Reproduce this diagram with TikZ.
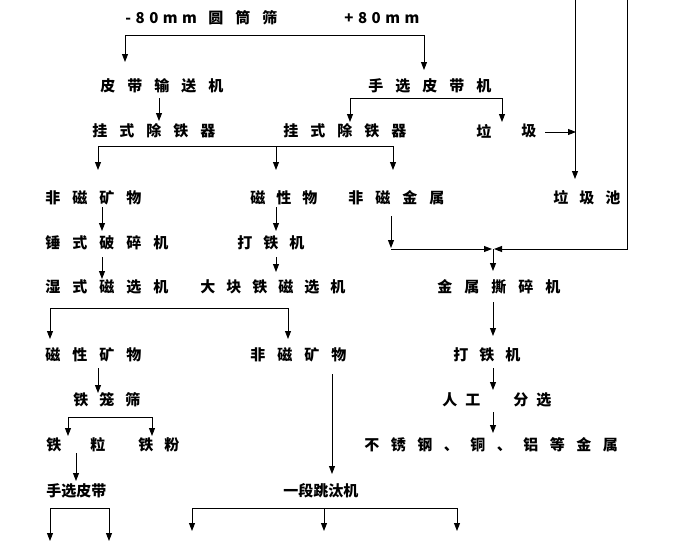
\documentclass[tikz,border=0pt]{standalone}
\usepackage{fontspec}
\setmainfont{Noto Sans CJK SC}
\usetikzlibrary{arrows.meta}
\newlength\lsgap
\def\lsloop#1{\ifx\relax#1\else#1\kern\lsgap\expandafter\lsloop\fi}
\newcommand\spc[2][12pt]{\setlength\lsgap{#1}\lsloop#2\relax\unkern}
\tikzset{
  lbl/.style={anchor=west,inner sep=0pt,font=\fontsize{15}{15}\selectfont\bfseries},
  arr/.style={-{Triangle[length=8pt,width=6pt]}},
  ln/.style={line width=0.9pt,black},
}
\begin{document}
\begin{tikzpicture}[x=1pt,y=-1pt,every path/.style={ln}]
\useasboundingbox (0,0) rectangle (677,541);
% labels
\node[lbl] (t80a) at (125,18) {\spc[4.5pt]{-80mm}};
\node[lbl] (tyts) at (208,18) {\spc{圆筒筛}};
\node[lbl] (t80b) at (344,18) {\spc[4.5pt]{+80mm}};
\node[lbl] (pd) at (100,86) {\spc{皮带输送机}};
\node[lbl] (sx) at (368,86) {\spc{手选皮带机}};
\node[lbl] (gs1) at (92,131) {\spc{挂式除铁器}};
\node[lbl] (gs2) at (283,131) {\spc{挂式除铁器}};
\node[lbl] (la) at (476,131) {垃};
\node[lbl] (ji) at (521,131) {圾};
\node[lbl] (ljc) at (553,198) {\spc[11pt]{垃圾池}};
\node[lbl] (fck1) at (45,198) {\spc{非磁矿物}};
\node[lbl] (cxw) at (250,198) {\spc[11pt]{磁性物}};
\node[lbl] (fcjs) at (348,198) {\spc{非磁金属}};
\node[lbl] (cs) at (45,243) {\spc{锤式破碎机}};
\node[lbl] (dtj1) at (237,243) {\spc[11pt]{打铁机}};
\node[lbl] (sscx) at (45,287) {\spc{湿式磁选机}};
\node[lbl] (dkt) at (200,287) {\spc[11pt]{大块铁磁选机}};
\node[lbl] (jssc) at (437,287) {\spc{金属撕碎机}};
\node[lbl] (cxkw) at (45,355) {\spc{磁性矿物}};
\node[lbl] (fck2) at (250,355) {\spc{非磁矿物}};
\node[lbl] (dtj2) at (453,355) {\spc[11pt]{打铁机}};
\node[lbl] (tls) at (73,400) {\spc[11pt]{铁笼筛}};
\node[lbl] (rg) at (442,400) {\spc[8pt]{人工}};
\node[lbl] (fx) at (513,400) {\spc[8pt]{分选}};
\node[lbl] (tie) at (46,445) {铁};
\node[lbl] (li) at (90,445) {粒};
\node[lbl] (tf) at (138,445) {\spc[11pt]{铁粉}};
\node[lbl] (bxg) at (364,445) {\spc[11.5pt]{不锈钢、铜、铝等金属}};
\node[lbl] (sxpd) at (46,491) {手选皮带};
\node[lbl] (yd) at (283,491) {一段跳汰机};
% coordinates
\coordinate (a0) at (125,35); \coordinate (a1) at (424,35);
\coordinate (a2) at (125,62); \coordinate (a3) at (424,70);
\coordinate (b0) at (159,98); \coordinate (b1) at (159,121);
\coordinate (c0) at (350,98); \coordinate (c1) at (502,98);
\coordinate (c2) at (350,122); \coordinate (c3) at (502,122);
\coordinate (d0) at (545,132); \coordinate (d1) at (576,132);
\coordinate (e0) at (575,0); \coordinate (e1) at (575,179);
\coordinate (f0) at (627,0); \coordinate (f1) at (627,249); \coordinate (f2) at (494,249);
\coordinate (g0) at (98,146); \coordinate (g1) at (276,146); \coordinate (g2) at (393,146);
\coordinate (g3) at (98,170); \coordinate (g4) at (276,170); \coordinate (g5) at (393,170);
\coordinate (h0) at (102,207); \coordinate (h1) at (102,231);
\coordinate (i0) at (276,207); \coordinate (i1) at (276,231);
\coordinate (j0) at (391,216); \coordinate (j1) at (391,248);
\coordinate (j2) at (391,249); \coordinate (j3) at (492,249);
\coordinate (k0) at (493,249); \coordinate (k1) at (493,271);
\coordinate (l0) at (102,257); \coordinate (l1) at (102,279);
\coordinate (m0) at (276,257); \coordinate (m1) at (276,272);
\coordinate (n0) at (493,302); \coordinate (n1) at (493,336);
\coordinate (o0) at (50,308); \coordinate (o1) at (288,308);
\coordinate (o2) at (50,339); \coordinate (o3) at (288,339);
\coordinate (p0) at (98,368); \coordinate (p1) at (98,393);
\coordinate (q0) at (332,374); \coordinate (q1) at (332,474);
\coordinate (r0) at (493,368); \coordinate (r1) at (493,390);
\coordinate (s0) at (68,417); \coordinate (s1) at (152,417);
\coordinate (s2) at (68,436); \coordinate (s3) at (152,436);
\coordinate (u0) at (493,412); \coordinate (u1) at (493,433);
\coordinate (v0) at (76,453); \coordinate (v1) at (76,481);
\coordinate (w0) at (50,508); \coordinate (w1) at (109,508);
\coordinate (w2) at (50,541); \coordinate (w3) at (109,541);
\coordinate (x0) at (192,508); \coordinate (x1) at (324,508); \coordinate (x2) at (457,508);
\coordinate (x3) at (192,531); \coordinate (x4) at (324,531); \coordinate (x5) at (457,531);
% connectors
\draw[arr] (a1) -- (a0) -- (a2);
\draw[arr] (a1) -- (a3);
\draw[arr] (b0) -- (b1);
\draw[arr] (c1) -- (c0) -- (c2);
\draw[arr] (c1) -- (c3);
\draw[arr] (d0) -- (d1);
\draw[arr] (e0) -- (e1);
\draw[arr] (f0) -- (f1) -- (f2);
\draw[arr] (g2) -- (g0) -- (g3);
\draw[arr] (g1) -- (g4);
\draw[arr] (g2) -- (g5);
\draw[arr] (h0) -- (h1);
\draw[arr] (i0) -- (i1);
\draw[arr] (j0) -- (j1);
\draw[arr] (j2) -- (j3);
\draw[arr] (k0) -- (k1);
\draw[arr] (l0) -- (l1);
\draw[arr] (m0) -- (m1);
\draw[arr] (n0) -- (n1);
\draw[arr] (o1) -- (o0) -- (o2);
\draw[arr] (o1) -- (o3);
\draw[arr] (p0) -- (p1);
\draw[arr] (q0) -- (q1);
\draw[arr] (r0) -- (r1);
\draw[arr] (s1) -- (s0) -- (s2);
\draw[arr] (s1) -- (s3);
\draw[arr] (u0) -- (u1);
\draw[arr] (v0) -- (v1);
\draw[arr] (w1) -- (w0) -- (w2);
\draw[arr] (w1) -- (w3);
\draw[arr] (x2) -- (x0) -- (x3);
\draw[arr] (x1) -- (x4);
\draw[arr] (x2) -- (x5);
\end{tikzpicture}
\end{document}
